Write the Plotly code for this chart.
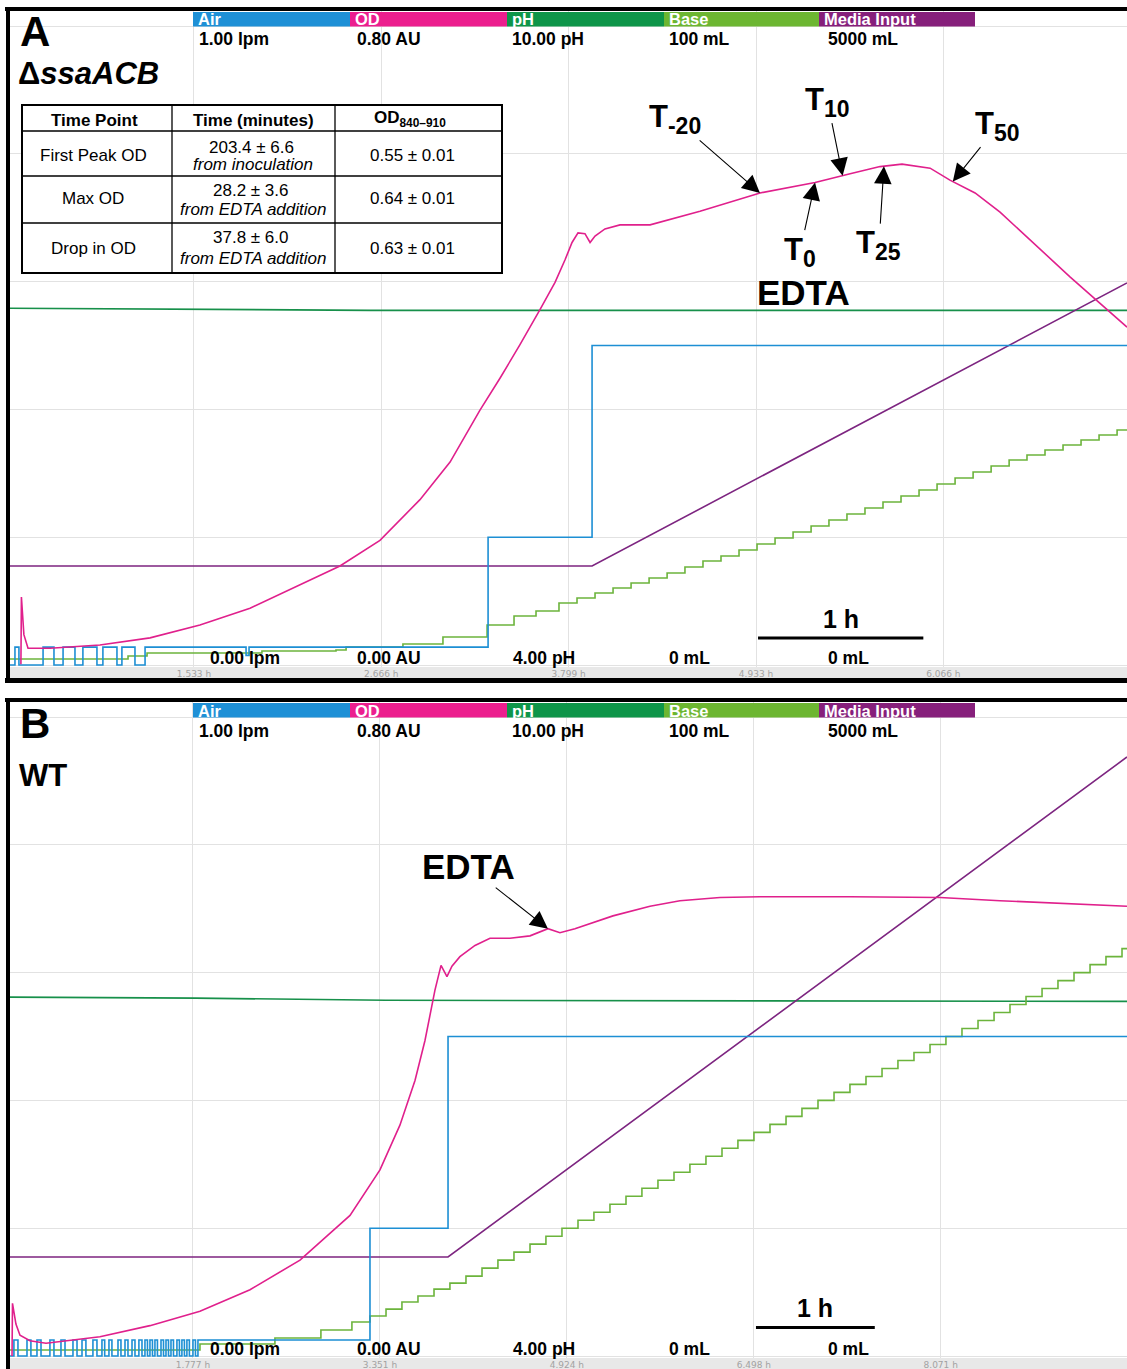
import numpy as np
import plotly.graph_objects as go

W, H = 1127, 1369

# ---------------- data ----------------
channels = ["Air", "OD", "pH", "Base", "Media Input"]
scale_top_labels = ["1.00 lpm", "0.80 AU", "10.00 pH", "100 mL", "5000 mL"]
scale_bottom_labels = ["0.00 lpm", "0.00 AU", "4.00 pH", "0 mL", "0 mL"]
scale_min = {"Air": 0.0, "OD": 0.0, "pH": 4.0, "Base": 0.0, "Media Input": 0.0}
scale_max = {"Air": 1.0, "OD": 0.8, "pH": 10.0, "Base": 100.0, "Media Input": 5000.0}
grid_ph = [4.0, 5.2, 6.4, 7.6, 8.8, 10.0]

time_ticks_a = [1.533, 2.666, 3.799, 4.933, 6.066]
time_ticks_b = [1.777, 3.351, 4.924, 6.498, 8.071]
time_range_a = [0.420, 7.177]
time_range_b = [0.237, 9.639]

# ---- Panel A (delta ssaACB) ----
air_a_t = [0.420, 0.450, 0.474, 0.620, 0.686, 0.741, 0.813, 0.861, 0.946, 0.982, 1.067,
           1.097, 1.176, 1.237, 1.848, 1.866, 3.312, 3.941, 7.177]
air_a_v = [0.0, 0.028, 0.0, 0.028, 0.0, 0.028, 0.0, 0.028, 0.0, 0.028, 0.0,
           0.028, 0.0, 0.028, 0.015, 0.028, 0.2, 0.5, 0.5]

od_a_t = [0.486, 0.489, 0.504, 0.529, 0.662, 0.964, 1.267, 1.569, 1.872, 2.174, 2.416,
          2.658, 2.900, 3.082, 3.263, 3.384, 3.505, 3.626, 3.717, 3.777, 3.820, 3.856,
          3.898, 3.929, 3.959, 4.019, 4.110, 4.292, 4.594, 4.957, 5.290, 5.502, 5.683,
          5.816, 5.986, 6.106, 6.258, 6.409, 6.832, 7.177]
od_a_v = [0.001, 0.085, 0.038, 0.021, 0.021, 0.025, 0.034, 0.050, 0.071, 0.100, 0.124,
          0.156, 0.207, 0.254, 0.319, 0.359, 0.401, 0.445, 0.479, 0.507, 0.529, 0.541,
          0.540, 0.529, 0.537, 0.546, 0.551, 0.551, 0.568, 0.591, 0.604, 0.615, 0.624,
          0.627, 0.622, 0.607, 0.591, 0.567, 0.486, 0.423]

ph_a_t = [0.420, 1.250, 2.600, 7.177]
ph_a_v = [7.35, 7.34, 7.33, 7.33]

base_a_t = [0.420, 1.134, 1.249, 1.944, 2.392, 2.453, 2.797, 3.039, 3.306, 3.469, 3.602,
            3.741, 3.850, 3.959, 4.068, 4.177, 4.286, 4.395, 4.503, 4.612, 4.721, 4.830,
            4.939, 5.048, 5.157, 5.266, 5.374, 5.483, 5.592, 5.701, 5.810, 5.919, 6.028,
            6.137, 6.246, 6.355, 6.464, 6.572, 6.681, 6.790, 6.899, 7.008, 7.117, 7.177]
base_a_v = [0.94, 1.41, 1.88, 2.19, 2.35, 2.82, 3.29, 4.38, 6.26, 7.67, 8.45,
            9.70, 10.49, 11.27, 12.05, 12.83, 13.62, 14.40, 15.34, 16.28, 17.06, 18.00,
            18.94, 19.87, 20.81, 21.75, 22.69, 23.63, 24.57, 25.51, 26.45, 27.39, 28.33,
            29.26, 30.20, 31.14, 32.08, 32.86, 33.65, 34.43, 35.21, 35.99, 36.78, 36.78]

media_a_t = [0.420, 3.941, 7.177]
media_a_v = [775.0, 775.0, 2990.0]

# ---- Panel B (WT) ----
air_b_t = [0.237, 0.270, 0.304, 0.380, 0.413, 0.464, 0.498, 0.573, 0.607, 0.666, 0.700,
           0.767, 0.801, 0.843, 0.876, 0.935, 0.969, 1.011, 1.034, 1.070, 1.095, 1.146,
           1.171, 1.205, 1.230, 1.264, 1.289, 1.322, 1.348, 1.373, 1.394, 1.415, 1.436,
           1.457, 1.478, 1.508, 1.529, 1.550, 1.571, 1.592, 1.613, 1.642, 1.663, 1.684,
           1.705, 1.726, 1.747, 1.777, 1.798, 1.819, 3.267, 3.924, 9.639]
air_b_v = [0.0, 0.025, 0.0, 0.025, 0.0, 0.025, 0.0, 0.025, 0.0, 0.025, 0.0,
           0.025, 0.0, 0.025, 0.0, 0.025, 0.0, 0.025, 0.0, 0.025, 0.0, 0.025,
           0.0, 0.025, 0.0, 0.025, 0.0, 0.025, 0.0, 0.025, 0.0, 0.025, 0.0,
           0.025, 0.0, 0.025, 0.0, 0.025, 0.0, 0.025, 0.0, 0.025, 0.0, 0.025,
           0.0, 0.025, 0.0, 0.025, 0.0, 0.025, 0.2, 0.5, 0.5]

od_b_t = [0.254, 0.258, 0.287, 0.321, 0.405, 0.540, 0.994, 1.415, 1.836, 2.257, 2.678,
          3.099, 3.351, 3.519, 3.646, 3.730, 3.814, 3.865, 3.915, 3.957, 4.024, 4.151,
          4.277, 4.445, 4.614, 4.765, 4.866, 4.992, 5.312, 5.624, 5.876, 6.213, 6.550,
          7.307, 8.065, 8.570, 9.639]
od_b_v = [0.000, 0.066, 0.040, 0.026, 0.019, 0.016, 0.024, 0.038, 0.056, 0.083, 0.120,
          0.176, 0.233, 0.289, 0.345, 0.395, 0.458, 0.489, 0.475, 0.488, 0.500, 0.514,
          0.523, 0.523, 0.526, 0.535, 0.530, 0.535, 0.551, 0.563, 0.570, 0.574, 0.575,
          0.575, 0.574, 0.570, 0.563]

ph_b_t = [0.237, 1.800, 3.400, 9.639]
ph_b_v = [7.37, 7.36, 7.34, 7.33]

base_b_t = [0.237, 1.836, 2.467, 2.854, 3.115, 3.267, 3.402, 3.536, 3.671, 3.806, 3.940,
            4.075, 4.210, 4.344, 4.479, 4.614, 4.748, 4.883, 5.018, 5.152, 5.287, 5.422,
            5.556, 5.691, 5.826, 5.960, 6.095, 6.230, 6.364, 6.499, 6.634, 6.769, 6.903,
            7.038, 7.173, 7.307, 7.442, 7.577, 7.711, 7.846, 7.981, 8.115, 8.250, 8.385,
            8.520, 8.654, 8.789, 8.924, 9.058, 9.193, 9.328, 9.462, 9.597, 9.639]
base_b_v = [0.94, 1.88, 2.81, 4.06, 5.31, 6.25, 7.34, 8.44, 9.38, 10.47, 11.41,
            12.50, 13.75, 15.00, 16.25, 17.50, 18.75, 20.00, 21.25, 22.50, 23.75, 25.00,
            26.25, 27.50, 28.75, 30.00, 31.25, 32.50, 33.75, 35.00, 36.25, 37.50, 38.75,
            40.00, 41.25, 42.50, 43.75, 45.00, 46.25, 47.50, 48.75, 50.00, 51.25, 52.50,
            53.75, 55.00, 56.25, 57.50, 58.75, 60.00, 61.25, 62.50, 63.75, 63.75]

media_b_t = [0.237, 3.924, 9.639]
media_b_v = [775.0, 775.0, 4687.0]

# EDTA additions and sampling points (minutes relative to EDTA)
edta_a_t = 5.29
edta_b_t = 4.765
t_offsets_min = [-20, 0, 10, 25, 50]
t_sub_labels = ["-20", "0", "10", "25", "50"]

table_header = ["Time Point", "Time (minutes)", "OD<sub>840–910</sub>"]
table_col1 = ["First Peak OD", "Max OD", "Drop in OD"]
table_col2a = ["203.4 ± 6.6", "28.2 ± 3.6", "37.8 ± 6.0"]
table_col2b = ["from inoculation", "from EDTA addition", "from EDTA addition"]
table_col3 = ["0.55 ± 0.01", "0.64 ± 0.01", "0.63 ± 0.01"]

# ---------------- style ----------------
FONT = "Liberation Sans, Arial, sans-serif"
line_colors = {"Air": "#1d8fd4", "OD": "#e0208c", "pH": "#17904a",
               "Base": "#6cb43c", "Media Input": "#7d2580"}
bar_colors = {"Air": "#1e90d6", "OD": "#ec1e8e", "pH": "#0e9549",
              "Base": "#6cb631", "Media Input": "#861f7b"}
GRID = "#e2e2e2"
order = ["pH", "Media Input", "Base", "Air", "OD"]   # draw order bottom -> top


def vrange(ch):
    # plot area spans 656 px: value 0 sits 2 px above its bottom, full scale 639 px higher
    m, M = scale_min[ch], scale_max[ch]
    s = M - m
    return [m - 2 / 639 * s, m + 654 / 639 * s]


def px(x):
    return x / W


def py(y):
    return 1 - y / H


dom_a = [1 - 667 / H, 1 - 11 / H]
dom_b = [1 - 1358 / H, 1 - 702 / H]
xdom = [10 / W, 1.0]

fig = go.Figure()
layout = dict(width=W, height=H, margin=dict(l=0, r=0, t=0, b=0),
              paper_bgcolor="white", plot_bgcolor="rgba(0,0,0,0)", showlegend=False,
              hovermode=False, font=dict(family=FONT, color="black"))

panels = [
    dict(dom=dom_a, xname="x", xkey="xaxis", base=1, ticks=time_ticks_a, rng=time_range_a,
         series={"Air": (air_a_t, air_a_v, "hv"), "OD": (od_a_t, od_a_v, "linear"),
                 "pH": (ph_a_t, ph_a_v, "linear"), "Base": (base_a_t, base_a_v, "hv"),
                 "Media Input": (media_a_t, media_a_v, "linear")}),
    dict(dom=dom_b, xname="x2", xkey="xaxis2", base=6, ticks=time_ticks_b, rng=time_range_b,
         series={"Air": (air_b_t, air_b_v, "hv"), "OD": (od_b_t, od_b_v, "linear"),
                 "pH": (ph_b_t, ph_b_v, "linear"), "Base": (base_b_t, base_b_v, "hv"),
                 "Media Input": (media_b_t, media_b_v, "linear")}),
]

axis_of = []
for p in panels:
    base_y = "y" if p["base"] == 1 else f"y{p['base']}"
    layout[p["xkey"]] = dict(domain=xdom, range=p["rng"], anchor=base_y,
                             tickvals=p["ticks"], ticktext=[f"{t:.3f} h" for t in p["ticks"]],
                             ticks="", showline=False,
                             zeroline=False, showgrid=True, gridcolor=GRID, gridwidth=1,
                             tickfont=dict(family="DejaVu Sans", size=9, color="#a2a2a2"),
                             fixedrange=True)
    amap = {}
    for k, ch in enumerate(order):
        idx = p["base"] + k
        key = "yaxis" if idx == 1 else f"yaxis{idx}"
        name = "y" if idx == 1 else f"y{idx}"
        ax = dict(domain=p["dom"], range=vrange(ch), anchor=p["xname"], zeroline=False,
                  showline=False, fixedrange=True)
        if k == 0:
            ax.update(showgrid=True, gridcolor=GRID, gridwidth=1, tickvals=grid_ph,
                      showticklabels=False, ticks="")
        else:
            ax.update(overlaying=base_y, visible=False, showgrid=False)
        layout[key] = ax
        amap[ch] = name
    axis_of.append(amap)
    for ch in order:
        t, v, shape = p["series"][ch]
        fig.add_trace(go.Scatter(x=t, y=v, xaxis=p["xname"], yaxis=amap[ch], mode="lines",
                                 line=dict(color=line_colors[ch], width=1.6, shape=shape),
                                 hoverinfo="skip"))

shapes = []
annotations = []


def rect(x0, y0, x1, y1, fill, line_w=0, line_c="black", layer="above"):
    shapes.append(dict(type="rect", xref="paper", yref="paper", x0=px(x0), x1=px(x1),
                       y0=py(y1), y1=py(y0), fillcolor=fill, layer=layer,
                       line=dict(width=line_w, color=line_c)))


def pline(x0, y0, x1, y1, w=1, c="black"):
    shapes.append(dict(type="line", xref="paper", yref="paper", x0=px(x0), x1=px(x1),
                       y0=py(y0), y1=py(y1), layer="above", line=dict(width=w, color=c)))


def text(x, y, s, size, color="black", xanchor="left", yanchor="middle"):
    annotations.append(dict(xref="paper", yref="paper", x=px(x), y=py(y), text=s,
                            showarrow=False, xanchor=xanchor, yanchor=yanchor,
                            font=dict(size=size, color=color, family=FONT)))


bar_x = [193, 350, 507, 664, 819, 975]
top_lab_x = [197, 355, 510, 667, 826]
bot_lab_x = [208, 355, 511, 667, 826]

for pi, dy in enumerate([0, 691]):
    # gray time strip below each plot area
    rect(10, 667 + dy, 1127, 678 + dy, "#e8e8e8", layer="below")
    # header bars
    for i, ch in enumerate(channels):
        rect(bar_x[i], 12 + dy, bar_x[i + 1], 26.5 + dy, bar_colors[ch])
        text(bar_x[i] + 3, 19.5 + dy, f"<b>{ch}</b>", 16.5, color="white")
        text(top_lab_x[i], 39.5 + dy, f"<b>{scale_top_labels[i]}</b>", 17.5)
        text(bot_lab_x[i], 658 + dy, f"<b>{scale_bottom_labels[i]}</b>", 17.5)

# borders
rect(5, 7, 1127, 11, "black")
rect(6, 7, 10, 683, "black")
rect(5, 678, 1127, 683, "black")
rect(5, 698, 1127, 702, "black")
rect(6, 698, 10, 1369, "black")

# panel labels
text(18, 32, "<b>A</b>", 42)
text(16, 73, "<b>Δ<i>ssaACB</i></b>", 31)
text(18, 723, "<b>B</b>", 42)
text(17, 775, "<b>WT</b>", 31)

# table
rect(22, 105, 502, 273, "white", line_w=2)
pline(172, 105, 172, 273, 1.3)
pline(335, 105, 335, 273, 1.3)
pline(22, 131, 502, 131, 1.3)
pline(22, 176, 502, 176, 1.3)
pline(22, 223, 502, 223, 1.3)
text(94, 120, f"<b>{table_header[0]}</b>", 17, xanchor="center")
text(253, 120, f"<b>{table_header[1]}</b>", 17, xanchor="center")
text(410, 119, f"<b>{table_header[2]}</b>", 17, xanchor="center")
row_y = [155, 198, 248]
row_y2a = [147, 190, 238]
row_y2b = [164, 210, 258]
for r in range(3):
    text(93, row_y[r], table_col1[r], 17, xanchor="center")
    text(251, row_y2a[r], table_col2a[r], 17, xanchor="center")
    text(253, row_y2b[r], f"<i>{table_col2b[r]}</i>", 17, xanchor="center")
    text(412, row_y[r], table_col3[r], 17, xanchor="center")

# scale bars (1 h in each panel's time units)
for xname, t0, ybar, ylab in [("x", 4.945, 638, 619), ("x2", 6.516, 1327.5, 1308)]:
    shapes.append(dict(type="line", xref=xname, yref="paper", x0=t0, x1=t0 + 1.0,
                       y0=py(ybar), y1=py(ybar), layer="above",
                       line=dict(width=3, color="black")))
    annotations.append(dict(xref=xname, yref="paper", x=t0 + 0.5, y=py(ylab),
                            text="<b>1 h</b>", showarrow=False, xanchor="center",
                            yanchor="middle", font=dict(size=25, family=FONT)))

# T-point labels with arrows in panel A (tips on the OD curve); ax/ay = label offset in px
label_offsets = {-20: (-85, -74), 0: (-15, 69), 10: (-15, -74), 25: (-5, 79), 50: (45, -56)}
for off, lab in zip(t_offsets_min, t_sub_labels):
    t = edta_a_t + off / 60.0
    odv = float(np.interp(t, od_a_t, od_a_v))
    ax, ay = label_offsets[off]
    annotations.append(dict(xref="x", yref=axis_of[0]["OD"], x=t, y=odv, ax=ax, ay=ay,
                            text=f"<b>T<sub><span style='font-size:23px'>{lab}</span></sub></b>",
                            showarrow=True, arrowhead=2,
                            arrowsize=3.2, arrowwidth=1.1, arrowcolor="black",
                            font=dict(size=31, family=FONT, color="black")))

text(803, 293, "<b>EDTA</b>", 35, xanchor="center")

# EDTA label with arrow in panel B
odb = float(np.interp(edta_b_t, od_b_t, od_b_v))
annotations.append(dict(xref="x2", yref=axis_of[1]["OD"], x=edta_b_t, y=odb, ax=-79, ay=-62,
                        text="<b>EDTA</b>", showarrow=True, arrowhead=2, arrowsize=3.2,
                        arrowwidth=1.1, arrowcolor="black",
                        font=dict(size=35, family=FONT, color="black")))

layout["shapes"] = shapes
layout["annotations"] = annotations
fig.update_layout(**layout)
fig.write_html("out.html")
